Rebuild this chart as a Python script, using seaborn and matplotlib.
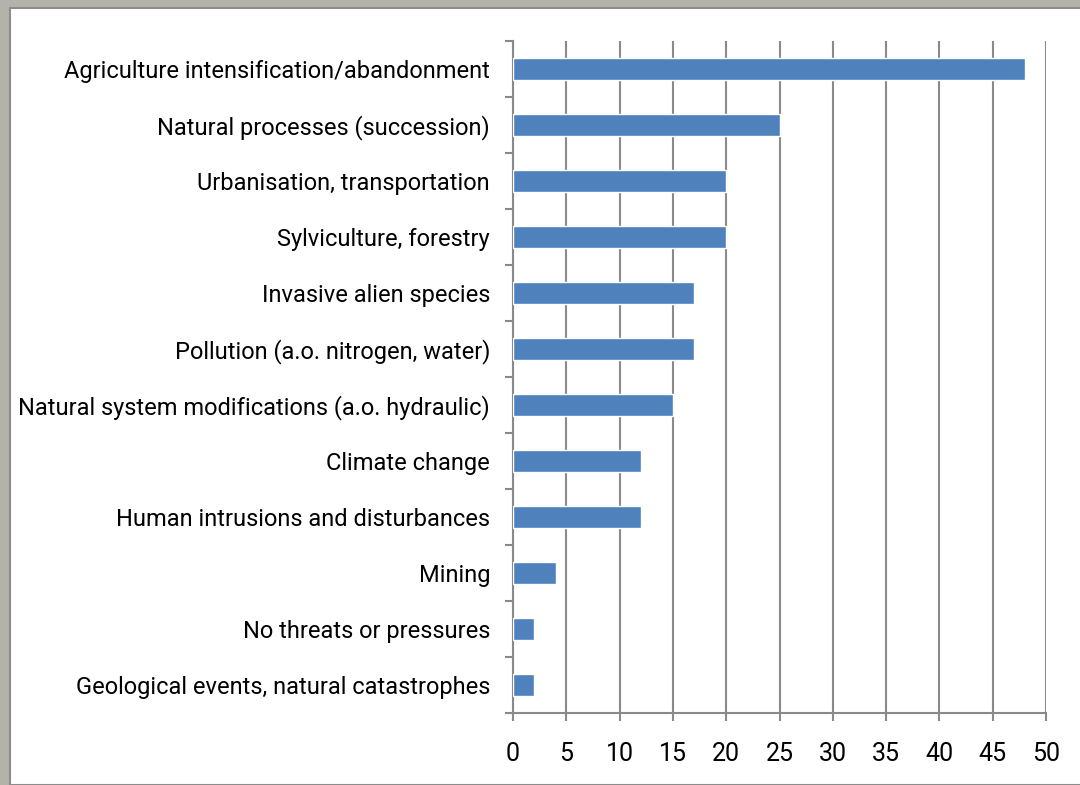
import matplotlib
matplotlib.use("Agg")
import matplotlib.pyplot as plt
import seaborn as sns
import pandas as pd
import numpy as np
from matplotlib.patches import Rectangle
from matplotlib.ticker import FixedLocator

categories = [
    "Agriculture intensification/abandonment",
    "Natural processes (succession)",
    "Urbanisation, transportation",
    "Sylviculture, forestry",
    "Invasive alien species",
    "Pollution (a.o. nitrogen, water)",
    "Natural system modifications (a.o. hydraulic)",
    "Climate change",
    "Human intrusions and disturbances",
    "Mining",
    "No threats or pressures",
    "Geological events, natural catastrophes",
]
values = [48, 25, 20, 20, 17, 17, 15, 12, 12, 4, 2, 2]
x_ticks = [0, 5, 10, 15, 20, 25, 30, 35, 40, 45, 50]

sns.set_theme(style="white")
plt.rcParams['font.family'] = ['Roboto', 'DejaVu Sans']

df = pd.DataFrame({"category": categories, "value": values})

fig = plt.figure(figsize=(10.8, 7.85), dpi=100)
fig.patch.set_facecolor("#b3b3ab")
panel = Rectangle((10/1080, 0), 1.0, 1 - 8/785, transform=fig.transFigure,
                  facecolor="white", edgecolor="#8c8c8c", linewidth=1.5, zorder=-10)
fig.add_artist(panel)

ax = fig.add_axes([513/1080, 1 - 713/785, (1046 - 513)/1080, (713 - 41)/785])
ax.set_zorder(5)
ax.set_facecolor("none")
sns.barplot(data=df, x="value", y="category", orient="h", color="#4F81BD",
            width=0.4, saturation=1, ax=ax, zorder=3)

ax.set_xlim(0, 50)
ax.set_ylim(len(categories) - 0.5, -0.5)
ax.set_xticks(x_ticks)
ax.xaxis.grid(True, color="#8a8a8a", linewidth=1.5, zorder=0)
ax.set_axisbelow(True)
ax.set_xlabel("")
ax.set_ylabel("")

for s in ["top", "right"]:
    ax.spines[s].set_visible(False)
for s in ["left", "bottom"]:
    ax.spines[s].set_color("#8a8a8a")
    ax.spines[s].set_linewidth(1.5)

ax.yaxis.set_minor_locator(FixedLocator(np.arange(-0.5, len(categories), 1.0)))
ax.tick_params(axis="y", which="major", length=0, pad=16.5, labelsize=17, labelcolor="black")
ax.tick_params(axis="y", which="minor", length=6, width=1.5, color="#8a8a8a", left=True)
ax.tick_params(axis="x", which="major", length=6, width=1.5, color="#8a8a8a", bottom=True,
               pad=15, labelsize=18, labelcolor="black")

fig.savefig("out.png", dpi=100, facecolor=fig.get_facecolor())
